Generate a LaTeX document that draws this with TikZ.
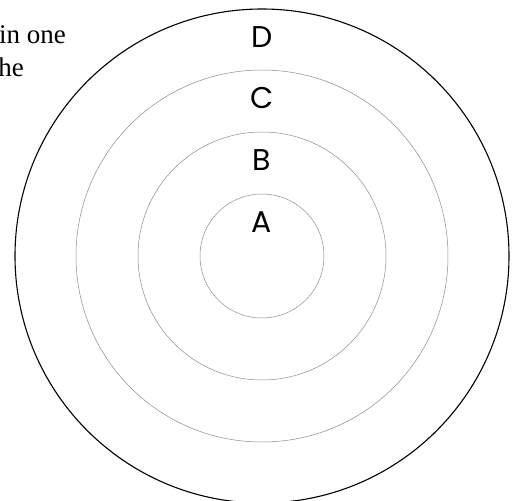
\documentclass[tikz,border=0pt]{standalone}
\usepackage{fontspec}
\setmainfont{Liberation Serif}
\newfontfamily\geofont{Poppins}
\begin{document}
\begin{tikzpicture}[x=1pt,y=-1pt,
  ring/.style={draw=black!45,line width=0.5pt},
  outerring/.style={draw=black,line width=1.1pt},
  lbl/.style={font=\geofont\fontsize{30}{30}\selectfont,inner sep=0pt,anchor=center},
  bodytext/.style={font=\fontsize{27}{27}\selectfont,inner sep=0pt,anchor=base east}]
\useasboundingbox (0,0) rectangle (512,501);
\clip (0,0) rectangle (512,501);
\coordinate (c) at (262,256);
\draw[ring] (c) circle[radius=62];
\draw[ring] (c) circle[radius=124];
\draw[ring] (c) circle[radius=186];
\draw[outerring] (c) circle[radius=247];
\node[lbl] (A) at (262,222) {A};
\node[lbl] (B) at (262,160) {B};
\node[lbl] (C) at (262,98) {C};
\node[lbl] (D) at (262,37) {D};
\node[bodytext] (t1) at (66,43) {in one};
\node[bodytext] (t2) at (24,76) {he};
\end{tikzpicture}
\end{document}
